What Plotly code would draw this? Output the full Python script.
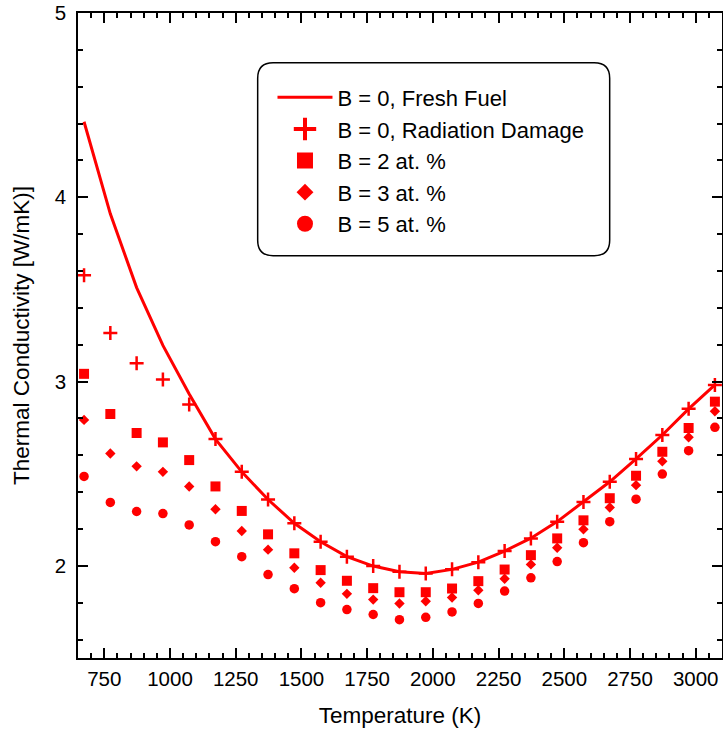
import plotly.graph_objects as go

temperature = [673 + 100 * i for i in range(25)]

fresh_fuel = [4.41, 3.91, 3.51, 3.196, 2.933, 2.688, 2.51, 2.36, 2.231, 2.131, 2.05, 1.999,
              1.968, 1.959, 1.981, 2.02, 2.08, 2.15, 2.24, 2.347, 2.456, 2.58, 2.71, 2.852, 2.982]
radiation_damage = [3.577, 3.264, 3.10, 3.011, 2.875, 2.688, 2.51, 2.36, 2.231, 2.131, 2.05, 1.999,
                    1.968, 1.959, 1.981, 2.02, 2.08, 2.149, 2.24, 2.347, 2.456, 2.58, 2.71, 2.852, 2.982]
boron_2 = [3.042, 2.824, 2.721, 2.670, 2.574, 2.431, 2.298, 2.171, 2.068, 1.977, 1.919, 1.879,
           1.857, 1.857, 1.877, 1.917, 1.980, 2.058, 2.149, 2.247, 2.367, 2.489, 2.619, 2.748, 2.891]
boron_3 = [2.792, 2.61, 2.54, 2.51, 2.431, 2.307, 2.189, 2.088, 1.99, 1.908, 1.848, 1.817,
           1.796, 1.808, 1.828, 1.868, 1.93, 2.008, 2.098, 2.198, 2.317, 2.438, 2.567, 2.698, 2.839]
boron_5 = [2.485, 2.344, 2.295, 2.284, 2.222, 2.131, 2.05, 1.953, 1.876, 1.80, 1.763, 1.736,
           1.708, 1.721, 1.75, 1.796, 1.863, 1.935, 2.023, 2.126, 2.24, 2.362, 2.498, 2.625, 2.752]

names = ["B = 0, Fresh Fuel", "B = 0, Radiation Damage", "B = 2 at. %", "B = 3 at. %", "B = 5 at. %"]

RED = "#ff0000"
FONT = "Liberation Sans, Arial, sans-serif"

fig = go.Figure()

# data traces
fig.add_trace(go.Scatter(x=temperature, y=fresh_fuel, mode="lines",
                         line=dict(color=RED, width=3), showlegend=False))
fig.add_trace(go.Scatter(x=temperature, y=radiation_damage, mode="markers",
                         marker=dict(symbol="cross-thin", size=10, color=RED,
                                     line=dict(color=RED, width=2.5)), showlegend=False))
fig.add_trace(go.Scatter(x=temperature, y=boron_2, mode="markers",
                         marker=dict(symbol="square", size=10, color=RED), showlegend=False))
fig.add_trace(go.Scatter(x=temperature, y=boron_3, mode="markers",
                         marker=dict(symbol="diamond", size=8, color=RED), showlegend=False))
fig.add_trace(go.Scatter(x=temperature, y=boron_5, mode="markers",
                         marker=dict(symbol="circle", size=9.5, color=RED), showlegend=False))

# legend entries (larger symbols as in the reference key)
legend_markers = [
    None,
    dict(symbol="cross-thin", size=16, color=RED, line=dict(color=RED, width=4)),
    dict(symbol="square", size=16, color=RED),
    dict(symbol="diamond", size=13, color=RED),
    dict(symbol="circle", size=16, color=RED),
]
fig.add_trace(go.Scatter(x=[None], y=[None], mode="lines", name=names[0],
                         line=dict(color=RED, width=3)))
for i in range(1, 5):
    fig.add_trace(go.Scatter(x=[None], y=[None], mode="markers", name=names[i],
                             marker=legend_markers[i]))

# rounded legend frame
x0, x1, y0, y1, r, ry = 0.279, 0.8256, 0.6237, 0.923, 0.024, 0.024
path = (f"M {x0 + r},{y0} L {x1 - r},{y0} Q {x1},{y0} {x1},{y0 + ry} "
        f"L {x1},{y1 - ry} Q {x1},{y1} {x1 - r},{y1} L {x0 + r},{y1} "
        f"Q {x0},{y1} {x0},{y1 - ry} L {x0},{y0 + ry} Q {x0},{y0} {x0 + r},{y0} Z")
fig.add_shape(type="path", path=path, xref="paper", yref="paper",
              line=dict(color="black", width=1.5), fillcolor="white", layer="below")

axis_common = dict(
    showline=True, linecolor="black", linewidth=1.5, mirror="ticks",
    ticks="inside", ticklen=10, tickwidth=1.5, tickcolor="black",
    showgrid=False, zeroline=False, ticklabeloverflow="allow",
    tickfont=dict(family=FONT, size=20.5, color="black"),
)

fig.update_xaxes(**axis_common, range=[650, 3100], tick0=0, dtick=250, ticklabelstandoff=2,
                 minor=dict(ticks="inside", ticklen=5, dtick=50, tickwidth=1.5,
                            tickcolor="black", showgrid=False),
                 title=dict(text="Temperature (K)", font=dict(family=FONT, size=22.5, color="black"),
                            standoff=18))
fig.update_yaxes(**axis_common, range=[1.5, 5], tick0=0, dtick=1, ticklabelstandoff=6,
                 minor=dict(ticks="inside", ticklen=5, dtick=0.2, tickwidth=1.5,
                            tickcolor="black", showgrid=False),
                 title=dict(text="Thermal Conductivity [W/mK)]",
                            font=dict(family=FONT, size=22.5, color="black"), standoff=19))

fig.update_layout(
    width=723, height=731,
    margin=dict(l=78, r=1, t=13, b=73, autoexpand=False),
    plot_bgcolor="white", paper_bgcolor="white",
    legend=dict(x=0.302, y=0.9015, xanchor="left", yanchor="top",
                bgcolor="rgba(0,0,0,0)", borderwidth=0,
                font=dict(family=FONT, size=22, color="black"),
                itemwidth=55),
)

fig.write_html("out.html", config={"displayModeBar": False},
               post_script="document.body.style.margin='0';")
